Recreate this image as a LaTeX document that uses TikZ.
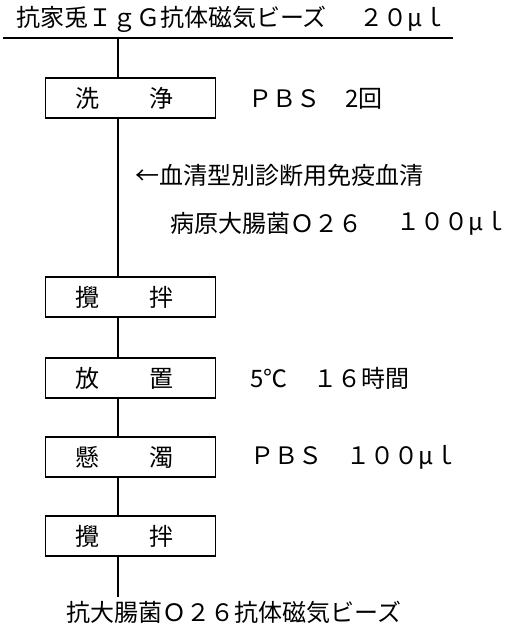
\documentclass[tikz,border=0pt]{standalone}
\usepackage{fontspec}
\setmainfont{Noto Sans CJK JP}
\begin{document}
\begin{tikzpicture}[x=1pt,y=-1pt,
  font=\fontsize{24}{27}\selectfont,
  stepbox/.style={draw, line width=1.3pt, minimum height=40pt, text width=110pt,
    inner xsep=30pt, inner ysep=0pt, align=left, anchor=west},
  txt/.style={inner sep=0pt, anchor=west},
  conn/.style={line width=1.3pt}]
\useasboundingbox (0,0) rectangle (512,632);

% top material
\node[txt] (top1) at (16,19) {抗家兎ＩｇＧ抗体磁気ビーズ};
\node[txt, anchor=east] (top2) at (447,19) {２０μｌ};
\coordinate (hl) at (3,38);
\coordinate (hr) at (453,38);
\coordinate (vs) at (118,38);
\draw[conn] (hl) -- (hr);

% steps
\node[stepbox] (b1) at (45,98)  {洗\hspace{50pt}浄};
\node[stepbox] (b2) at (45,297) {攪\hspace{50pt}拌};
\node[stepbox] (b3) at (45,378) {放\hspace{50pt}置};
\node[stepbox] (b4) at (45,457) {懸\hspace{50pt}濁};
\node[stepbox] (b5) at (45,536) {攪\hspace{50pt}拌};
\coordinate (ve) at (118,597);

% connectors
\draw[conn] (vs) -- (vs |- b1.north);
\draw[conn] (vs |- b1.south) -- (vs |- b2.north);
\draw[conn] (vs |- b2.south) -- (vs |- b3.north);
\draw[conn] (vs |- b3.south) -- (vs |- b4.north);
\draw[conn] (vs |- b4.south) -- (vs |- b5.north);
\draw[conn] (vs |- b5.south) -- (ve);

% side notes
\node[txt] (n1a) at (248,99) {ＰＢＳ};
\node[txt] (n1b) at (345,99) {2回};
\node[txt] (m1) at (135,175) {←血清型別診断用免疫血清};
\node[txt] (m2a) at (170,223) {病原大腸菌Ｏ２６};
\node[txt, anchor=east] (m2b) at (508,223) {１００μｌ};
\node[txt] (n3a) at (250,378) {5℃};
\node[txt] (n3b) at (313,378) {１６時間};
\node[txt] (n4) at (250,457) {ＰＢＳ　１００μｌ};

% result
\node[txt] (res) at (66,612) {抗大腸菌Ｏ２６抗体磁気ビーズ};
\end{tikzpicture}
\end{document}
